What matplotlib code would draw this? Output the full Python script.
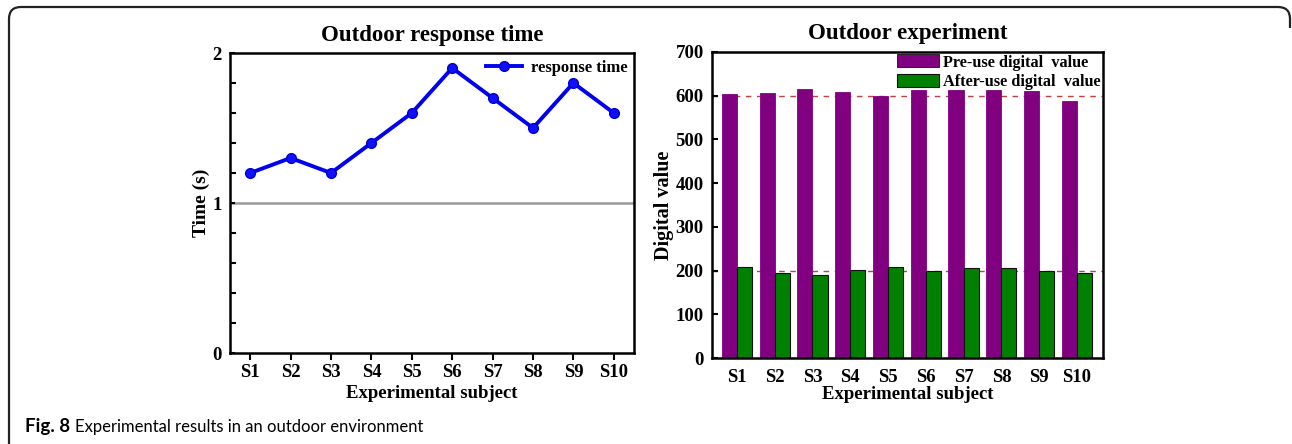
import numpy as np
import matplotlib.pyplot as plt
from matplotlib.path import Path
from matplotlib.patches import PathPatch
from matplotlib.ticker import MultipleLocator

subjects = ['S1', 'S2', 'S3', 'S4', 'S5', 'S6', 'S7', 'S8', 'S9', 'S10']
response = [1.2, 1.3, 1.2, 1.4, 1.6, 1.9, 1.7, 1.5, 1.8, 1.6]
pre_use = [605, 607, 615, 609, 600, 613, 612, 612, 611, 589]
after_use = [209, 195, 189, 202, 209, 198, 207, 205, 199, 195]

plt.rcParams['font.family'] = ['Liberation Serif', 'DejaVu Serif']
plt.rcParams['font.weight'] = 'bold'
plt.rcParams['axes.titleweight'] = 'bold'
plt.rcParams['axes.labelweight'] = 'bold'
plt.rcParams['axes.linewidth'] = 1.8

fig = plt.figure(figsize=(12.92, 4.44), dpi=100)

# page frame (rounded top corners, open at the bottom)
W, H = 1292.0, 444.0
r = 12
verts = [(9, 0), (9, H - 7 - r), (9, H - 7), (9 + r, H - 7),
         (W - 2 - r, H - 7), (W - 2, H - 7), (W - 2, H - 7 - r), (W - 2, H - 28)]
codes = [Path.MOVETO, Path.LINETO, Path.CURVE3, Path.CURVE3,
         Path.LINETO, Path.CURVE3, Path.CURVE3, Path.LINETO]
frame = Path([(x / W, y / H) for x, y in verts], codes)
fig.patches.append(PathPatch(frame, transform=fig.transFigure, fill=False,
                             lw=1.6, ec='#222222'))

cap_font = ['Lato', 'DejaVu Sans']
fig.text(25 / W, 1 - 432 / H, 'Fig. 8', family=cap_font, weight='bold',
         fontsize=13.5, va='baseline')
fig.text(75 / W, 1 - 432 / H, 'Experimental results in an outdoor environment',
         family=cap_font, weight='normal', fontsize=12, va='baseline')

x = np.arange(len(subjects))

# left: response time
ax1 = fig.add_axes([230 / W, 91 / H, 404 / W, 300 / H])
ax1.axhline(1, color='#999999', lw=1.8, zorder=1)
ax1.plot(x, response, '-o', color='#0000ee', lw=2.8, ms=7,
         mfc='#1010ff', mec='#0000cc', label='response time', zorder=3)
ax1.set_xlim(-0.5, 9.5)
ax1.set_ylim(0, 2)
ax1.set_xticks(x)
ax1.set_xticklabels(subjects)
ax1.set_yticks([0, 1, 2])
ax1.yaxis.set_minor_locator(MultipleLocator(0.2))
ax1.tick_params(axis='y', which='both', direction='in', width=1.5, pad=6)
ax1.tick_params(axis='y', which='minor', length=4)
ax1.tick_params(axis='x', direction='out', length=5, width=1.5, pad=3)
ax1.tick_params(labelsize=13.5)
ax1.set_xlabel('Experimental subject', fontsize=13.5, labelpad=3)
ax1.set_ylabel('Time (s)', fontsize=14, labelpad=2)
ax1.set_title('Outdoor response time', fontsize=16.5, pad=9)
ax1.legend(loc='upper right', frameon=False, fontsize=12, handlelength=2.2,
           borderaxespad=0.1, borderpad=0.3, handletextpad=0.5,
           bbox_to_anchor=(1.0, 1.0))

# right: digital values
ax2 = fig.add_axes([712 / W, 86 / H, 391 / W, 306 / H])
w = 0.4
ax2.axhline(600, color='#c04040', lw=1, ls=(0, (4, 4)), zorder=0)
ax2.axhline(200, color='#c04040', lw=1, ls=(0, (4, 4)), zorder=0)
ax2.bar(x - w / 2, pre_use, w, color='#800080', ec='#800080', lw=0.6,
        label='Pre-use digital  value', zorder=2)
ax2.bar(x + w / 2, after_use, w, color='#008000', ec='#111111', lw=0.8,
        label='After-use digital  value', zorder=2)
ax2.set_xlim(-0.66, 9.69)
ax2.set_ylim(0, 700)
ax2.set_xticks(x)
ax2.set_xticklabels(subjects)
ax2.set_yticks(np.arange(0, 701, 100))
ax2.tick_params(axis='y', direction='in', length=4, width=1.5, pad=6)
ax2.tick_params(axis='x', length=0, pad=8)
ax2.tick_params(labelsize=13.5)
ax2.set_xlabel('Experimental subject', fontsize=13.5, labelpad=0)
ax2.set_ylabel('Digital value', fontsize=14.5, labelpad=1)
ax2.set_title('Outdoor experiment', fontsize=16.5, pad=9)
leg = ax2.legend(loc='upper right', frameon=False, fontsize=11.7,
                 handlelength=2.6, handleheight=0.85, borderaxespad=0.0,
                 borderpad=0.15, handletextpad=0.25, labelspacing=0.2,
                 bbox_to_anchor=(1.0, 1.0))
for h in leg.legend_handles:
    h.set_edgecolor('#111111')

fig.savefig('out.png', dpi=100)
